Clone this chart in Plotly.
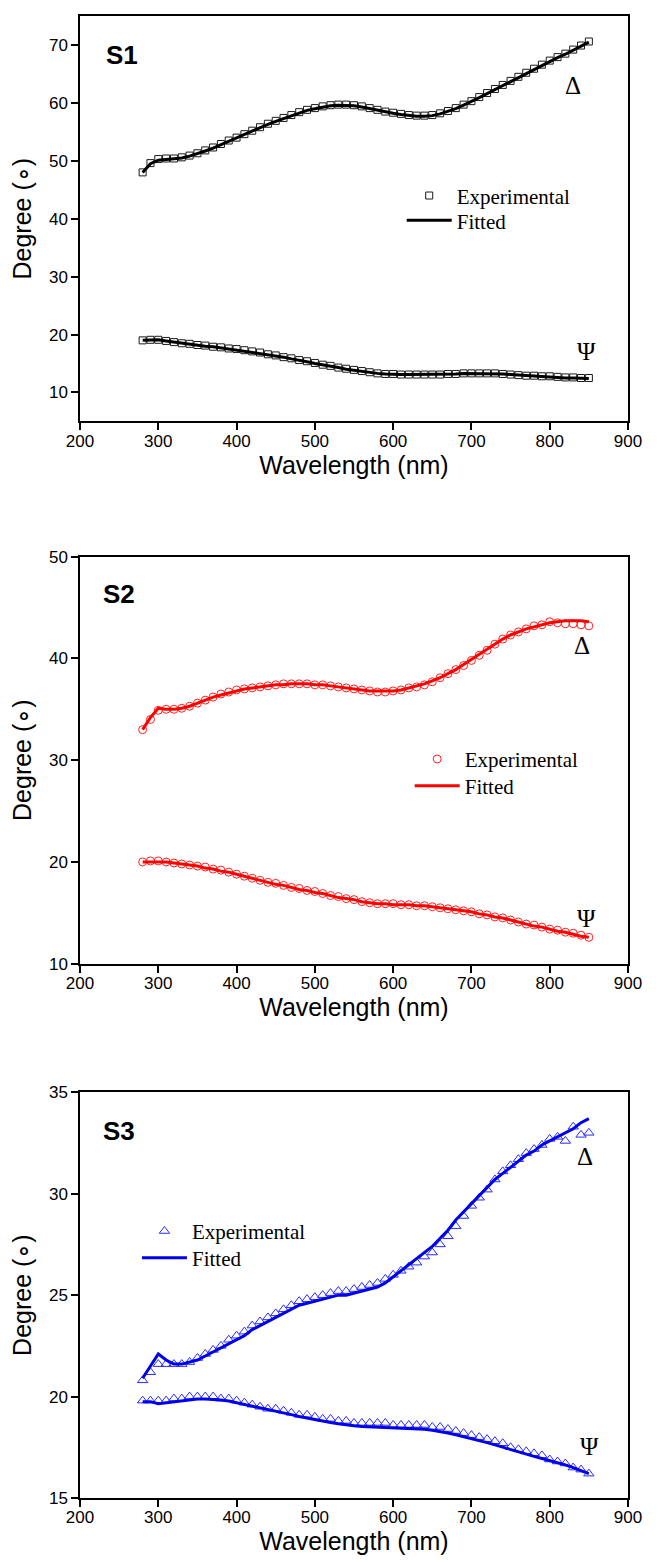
import plotly.graph_objects as go

# ---------------- data ----------------
wavelength = list(range(280, 851, 10))  # nm, 280..850

s1_delta_exp = [48.0, 49.6, 50.3, 50.4, 50.4, 50.6, 50.9, 51.3, 51.8, 52.3,
                52.9, 53.5, 54.0, 54.6, 55.2, 55.8, 56.4, 56.9, 57.4, 57.9,
                58.4, 58.8, 59.1, 59.4, 59.6, 59.7, 59.7, 59.6, 59.4, 59.1,
                58.8, 58.5, 58.3, 58.1, 57.9, 57.8, 57.8, 57.9, 58.2, 58.6,
                59.1, 59.7, 60.3, 61.0, 61.7, 62.4, 63.1, 63.8, 64.5, 65.2,
                65.9, 66.6, 67.3, 67.9, 68.5, 69.2, 69.9, 70.6]
s1_delta_fit = [48.0, 49.5, 50.1, 50.2, 50.3, 50.5, 50.8, 51.2, 51.7, 52.2,
                52.8, 53.4, 53.9, 54.5, 55.1, 55.7, 56.3, 56.8, 57.3, 57.8,
                58.3, 58.7, 59.0, 59.3, 59.5, 59.6, 59.6, 59.5, 59.3, 59.0,
                58.7, 58.4, 58.2, 58.0, 57.8, 57.7, 57.7, 57.8, 58.1, 58.5,
                59.0, 59.6, 60.2, 60.9, 61.6, 62.3, 63.0, 63.7, 64.4, 65.1,
                65.8, 66.5, 67.2, 67.8, 68.4, 69.1, 69.8, 70.5]
s1_psi_exp = [19.0, 19.1, 19.1, 18.9, 18.7, 18.5, 18.4, 18.2, 18.1, 17.9,
              17.8, 17.6, 17.5, 17.3, 17.1, 16.9, 16.6, 16.4, 16.1, 15.9,
              15.6, 15.4, 15.1, 14.8, 14.6, 14.3, 14.1, 13.9, 13.7, 13.5,
              13.3, 13.2, 13.2, 13.1, 13.1, 13.1, 13.1, 13.1, 13.1, 13.2,
              13.2, 13.3, 13.3, 13.3, 13.3, 13.3, 13.2, 13.1, 13.0, 12.9,
              12.9, 12.8, 12.8, 12.7, 12.6, 12.6, 12.5, 12.5]
s1_psi_fit = [19.0, 19.0, 19.1, 18.9, 18.7, 18.5, 18.3, 18.2, 18.0, 17.9,
              17.7, 17.6, 17.4, 17.2, 17.0, 16.8, 16.6, 16.3, 16.1, 15.8,
              15.6, 15.3, 15.0, 14.8, 14.5, 14.3, 14.0, 13.8, 13.6, 13.4,
              13.3, 13.2, 13.1, 13.1, 13.1, 13.1, 13.1, 13.1, 13.1, 13.2,
              13.2, 13.3, 13.3, 13.3, 13.3, 13.3, 13.2, 13.1, 13.0, 12.9,
              12.8, 12.7, 12.7, 12.6, 12.5, 12.5, 12.4, 12.4]

s2_delta_exp = [33.0, 34.0, 34.9, 35.0, 35.0, 35.1, 35.3, 35.6, 35.9, 36.2,
                36.5, 36.7, 36.9, 37.0, 37.1, 37.2, 37.3, 37.4, 37.5, 37.5,
                37.5, 37.5, 37.4, 37.4, 37.3, 37.2, 37.1, 37.0, 36.9, 36.8,
                36.7, 36.7, 36.8, 36.9, 37.1, 37.2, 37.4, 37.7, 38.1, 38.5,
                38.9, 39.3, 39.8, 40.3, 40.8, 41.4, 41.9, 42.3, 42.6, 42.9,
                43.2, 43.3, 43.6, 43.5, 43.4, 43.4, 43.3, 43.2]
s2_delta_fit = [33.0, 34.2, 35.1, 35.0, 35.0, 35.1, 35.3, 35.6, 35.9, 36.2,
                36.4, 36.6, 36.8, 37.0, 37.1, 37.2, 37.3, 37.4, 37.4, 37.5,
                37.5, 37.5, 37.4, 37.4, 37.3, 37.2, 37.1, 37.0, 36.9, 36.8,
                36.8, 36.8, 36.8, 36.9, 37.1, 37.3, 37.5, 37.8, 38.1, 38.5,
                38.9, 39.4, 39.9, 40.4, 40.9, 41.4, 41.9, 42.3, 42.6, 42.9,
                43.1, 43.3, 43.5, 43.6, 43.7, 43.7, 43.7, 43.6]
s2_psi_exp = [20.0, 20.1, 20.1, 20.0, 19.9, 19.8, 19.7, 19.6, 19.5, 19.3,
              19.2, 19.0, 18.8, 18.6, 18.4, 18.2, 18.0, 17.9, 17.7, 17.5,
              17.4, 17.2, 17.1, 16.9, 16.7, 16.6, 16.4, 16.3, 16.1, 16.0,
              15.9, 15.9, 15.9, 15.8, 15.8, 15.7, 15.7, 15.6, 15.5, 15.4,
              15.3, 15.2, 15.1, 14.9, 14.8, 14.6, 14.5, 14.3, 14.1, 13.9,
              13.8, 13.6, 13.4, 13.3, 13.1, 13.0, 12.8, 12.6]
s2_psi_fit = [20.0, 20.0, 20.0, 20.0, 19.9, 19.8, 19.7, 19.6, 19.4, 19.3,
              19.1, 19.0, 18.8, 18.6, 18.4, 18.2, 18.0, 17.8, 17.7, 17.5,
              17.3, 17.2, 17.0, 16.9, 16.7, 16.5, 16.4, 16.3, 16.1, 16.0,
              15.9, 15.9, 15.8, 15.8, 15.8, 15.7, 15.7, 15.6, 15.5, 15.4,
              15.3, 15.2, 15.1, 14.9, 14.8, 14.6, 14.5, 14.3, 14.1, 13.9,
              13.7, 13.6, 13.4, 13.2, 13.1, 12.9, 12.7, 12.6]

s3_delta_exp = [20.8, 21.2, 21.6, 21.6, 21.6, 21.6, 21.7, 21.9, 22.1, 22.3,
                22.5, 22.8, 23.0, 23.2, 23.5, 23.7, 23.9, 24.1, 24.3, 24.5,
                24.7, 24.8, 24.9, 25.0, 25.1, 25.2, 25.2, 25.3, 25.4, 25.5,
                25.6, 25.8, 26.0, 26.2, 26.4, 26.6, 26.9, 27.1, 27.5, 27.9,
                28.4, 28.9, 29.4, 29.8, 30.2, 30.7, 31.1, 31.4, 31.7, 32.0,
                32.2, 32.4, 32.7, 32.8, 32.6, 33.3, 32.9, 33.0]
s3_delta_fit = [20.9, 21.5, 22.1, 21.8, 21.6, 21.6, 21.7, 21.8, 22.0, 22.2,
                22.4, 22.6, 22.8, 23.0, 23.3, 23.5, 23.7, 23.9, 24.1, 24.3,
                24.5, 24.6, 24.7, 24.8, 24.9, 25.0, 25.0, 25.1, 25.2, 25.3,
                25.4, 25.6, 25.9, 26.2, 26.5, 26.8, 27.1, 27.4, 27.8, 28.2,
                28.7, 29.1, 29.5, 29.9, 30.3, 30.7, 31.0, 31.3, 31.6, 31.9,
                32.1, 32.4, 32.6, 32.8, 33.0, 33.2, 33.5, 33.7]
s3_psi_exp = [19.8, 19.8, 19.8, 19.8, 19.9, 19.9, 20.0, 20.0, 20.0, 20.0,
              19.9, 19.9, 19.8, 19.7, 19.6, 19.5, 19.4, 19.4, 19.3, 19.2,
              19.1, 19.1, 19.0, 18.9, 18.9, 18.8, 18.8, 18.7, 18.7, 18.7,
              18.7, 18.7, 18.6, 18.6, 18.6, 18.6, 18.6, 18.5, 18.5, 18.4,
              18.3, 18.2, 18.1, 18.0, 17.9, 17.8, 17.7, 17.5, 17.4, 17.3,
              17.2, 17.1, 16.9, 16.8, 16.7, 16.5, 16.4, 16.2]
s3_psi_fit = [19.75, 19.75, 19.65, 19.7, 19.75, 19.8, 19.85, 19.88, 19.88, 19.87,
              19.83, 19.78, 19.7, 19.6, 19.52, 19.43, 19.35, 19.27, 19.19, 19.11,
              19.02, 18.94, 18.86, 18.8, 18.72, 18.66, 18.6, 18.56, 18.53, 18.51,
              18.5, 18.49, 18.48, 18.46, 18.44, 18.42, 18.39, 18.34, 18.28, 18.2,
              18.12, 18.03, 17.94, 17.84, 17.73, 17.62, 17.5, 17.39, 17.28, 17.17,
              17.05, 16.95, 16.85, 16.74, 16.63, 16.5, 16.35, 16.2]

panel_labels = ["S1", "S2", "S3"]
x_ticks = [200, 300, 400, 500, 600, 700, 800, 900]

# ---------------- layout geometry (px) ----------------
W, H = 660, 1562
ML, MR, MT, MB = 80, 31.5, 7, 63.7
PW = W - ML - MR
PH = H - MT - MB


def py(p):  # pixel y -> paper
    return (H - MB - p) / PH


def px(p):  # pixel x -> paper
    return (p - ML) / PW


fig = go.Figure()

panels = [
    dict(xa="x", ya="y", legs=("legend", "legend2"), color="#000000", mcolor="#1a1a1a",
         symbol="square-open", msize=7,
         dexp=s1_delta_exp, dfit=s1_delta_fit, pexp=s1_psi_exp, pfit=s1_psi_fit),
    dict(xa="x2", ya="y2", legs=("legend3", "legend4"), color="#ff0000", mcolor="#ff2020",
         symbol="circle-open", msize=8,
         dexp=s2_delta_exp, dfit=s2_delta_fit, pexp=s2_psi_exp, pfit=s2_psi_fit),
    dict(xa="x3", ya="y3", legs=("legend5", "legend6"), color="#0000ee", mcolor="#2a2aff",
         symbol="triangle-up-open", msize=9,
         dexp=s3_delta_exp, dfit=s3_delta_fit, pexp=s3_psi_exp, pfit=s3_psi_fit),
]

for p in panels:
    marker = dict(symbol=p["symbol"], size=p["msize"], color=p["mcolor"],
                  line=dict(width=1, color=p["mcolor"]))
    line = dict(color=p["color"], width=3)
    lexp, lfit = p["legs"]
    fig.add_trace(go.Scatter(x=wavelength, y=p["dexp"], mode="markers", marker=marker,
                             name="Experimental", xaxis=p["xa"], yaxis=p["ya"],
                             legend=lexp, showlegend=True))
    fig.add_trace(go.Scatter(x=wavelength, y=p["pexp"], mode="markers", marker=marker,
                             name="Experimental", xaxis=p["xa"], yaxis=p["ya"],
                             legend=lexp, showlegend=False))
    fig.add_trace(go.Scatter(x=wavelength, y=p["dfit"], mode="lines", line=line,
                             name="Fitted", xaxis=p["xa"], yaxis=p["ya"],
                             legend=lfit, showlegend=True))
    fig.add_trace(go.Scatter(x=wavelength, y=p["pfit"], mode="lines", line=line,
                             name="Fitted", xaxis=p["xa"], yaxis=p["ya"],
                             legend=lfit, showlegend=False))

tick_font = dict(family="Liberation Sans, Arial", size=17, color="black")
title_font = dict(family="Liberation Sans, Arial", size=25, color="black")

# y domains (px top, px bottom)
ydoms = [(7, 415), (551, 960.7), (1090, 1498.3)]
yranges = [[5, 75], [10, 50], [15, 35]]
ydticks = [10, 10, 5]

axis_common = dict(showline=True, linecolor="black", linewidth=1.5, mirror=True,
                   ticks="outside", ticklen=7, tickwidth=1.5, tickcolor="black",
                   showgrid=False, zeroline=False, tickfont=tick_font)

layout = dict(width=W, height=H, margin=dict(l=ML, r=MR, t=MT, b=MB),
              paper_bgcolor="white", plot_bgcolor="white", showlegend=True)

for i in range(3):
    sfx = "" if i == 0 else str(i + 1)
    top, bot = ydoms[i]
    layout["xaxis" + sfx] = dict(domain=[0, 1], range=[200, 900], tickvals=x_ticks,
                                 anchor="y" + sfx, ticklabelstandoff=-4,
                                 title=dict(text="Wavelength (nm)", font=title_font, standoff=0),
                                 **axis_common)
    layout["yaxis" + sfx] = dict(domain=[py(bot), py(top)], range=yranges[i],
                                 dtick=ydticks[i], anchor="x" + sfx,
                                 title=dict(text="Degree (∘)", font=title_font, standoff=10),
                                 **axis_common)

legend_font = dict(family="Liberation Serif, Times New Roman", size=21, color="black")
# (legend key, left px, row-centre px)
leg_pos = [("legend", 402, 188), ("legend2", 402, 213),
           ("legend3", 410, 755), ("legend4", 410, 782),
           ("legend5", 137, 1230), ("legend6", 137, 1257)]
for key, lx, ly in leg_pos:
    layout[key] = dict(x=px(lx), y=py(ly), xanchor="left", yanchor="middle",
                       bgcolor="rgba(0,0,0,0)", borderwidth=0, font=legend_font,
                       itemwidth=45, tracegroupgap=0)

fig.update_layout(**layout)

# panel labels
label_pos = [(104, 46), (101, 589), (101, 1129)]
for txt, (lx, ly) in zip(panel_labels, label_pos):
    fig.add_annotation(x=px(lx), y=py(ly), xref="paper", yref="paper", text="<b>" + txt + "</b>",
                       showarrow=False, xanchor="left", yanchor="middle",
                       font=dict(family="Liberation Sans, Arial", size=26, color="black"))

greek = [("Δ", 573, 77), ("Ψ", 587, 345), ("Δ", 582, 640), ("Ψ", 587, 915),
         ("Δ", 585, 1155), ("Ψ", 590, 1446)]
for txt, gx, gy in greek:
    fig.add_annotation(x=px(gx), y=py(gy), xref="paper", yref="paper", text=txt,
                       showarrow=False, xanchor="center", yanchor="middle",
                       font=dict(family="Liberation Serif, Times New Roman", size=25, color="black"))

fig.write_html("out.html", config={"displayModeBar": False},
               post_script="document.body.style.margin='0';document.body.style.overflow='hidden';")
